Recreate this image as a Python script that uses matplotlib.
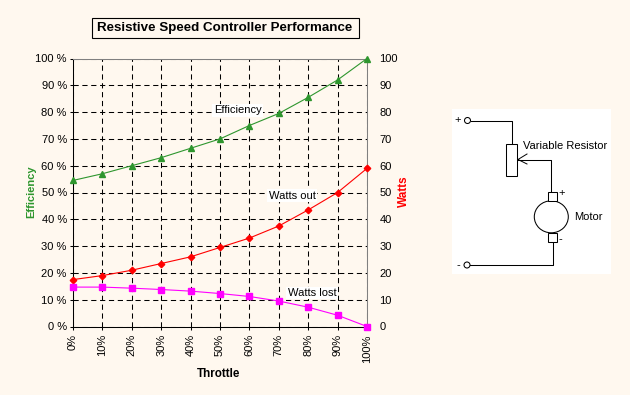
import matplotlib
matplotlib.use('Agg')
import matplotlib.pyplot as plt
from matplotlib.patches import Rectangle, Circle, Ellipse

plt.rcParams['font.family'] = ['Liberation Sans', 'DejaVu Sans']

throttle = [0, 10, 20, 30, 40, 50, 60, 70, 80, 90, 100]
efficiency = [54.5, 57, 60, 63, 66.5, 70, 75, 79.5, 85.5, 92, 100]
watts_out = [17.5, 19, 21, 23.5, 26, 29.5, 33, 37.5, 43.5, 50, 59]
watts_lost = [14.7, 14.7, 14.3, 13.8, 13.2, 12.3, 11.2, 9.5, 7.2, 4.2, 0]
x_labels = ['0%', '10%', '20%', '30%', '40%', '50%', '60%', '70%', '80%', '90%', '100%']
y_ticks = [0, 10, 20, 30, 40, 50, 60, 70, 80, 90, 100]

bg = '#FFF8EF'
W, H = 630, 395
fig = plt.figure(figsize=(W/100, H/100), dpi=100, facecolor=bg)

# plot area in pixels: 73..367 across, 58.5..326.5 down
ax = fig.add_axes([73/W, 1-326.5/H, 294/W, 268/H], facecolor=bg)
ax.set_xlim(0, 100)
ax.set_ylim(0, 100)
ax.set_xticks(throttle)
ax.set_xticklabels(x_labels, rotation=90, fontsize=8)
ax.set_yticks(y_ticks)
ax.set_yticklabels([str(v)+' %' for v in y_ticks], fontsize=8)
ax.tick_params(length=2.5, width=0.75, pad=2, color='black')
ax.tick_params(axis='x', pad=3)
ax.grid(True, color='black', linestyle=(0, (5, 3.5)), linewidth=0.75)
ax.set_axisbelow(True)
for s in ['top', 'right']:
    ax.spines[s].set_color('#808080')
    ax.spines[s].set_linewidth(0.75)
for s in ['left', 'bottom']:
    ax.spines[s].set_color('black')
    ax.spines[s].set_linewidth(0.75)

ax.plot(throttle, efficiency, color='#2E962E', marker='^', ms=5, lw=0.8, clip_on=False, zorder=4)
ax.plot(throttle, watts_out, color='#FF0000', marker='D', ms=3.3, lw=0.8, clip_on=False, zorder=4)
ax.plot(throttle, watts_lost, color='#FF00FF', marker='s', ms=4.3, lw=0.8, clip_on=False, zorder=4)

ax2 = ax.twinx()
ax2.set_ylim(0, 100)
ax2.set_yticks(y_ticks)
ax2.set_yticklabels([str(v) for v in y_ticks], fontsize=8)
ax2.tick_params(length=0, pad=9)
for s in ax2.spines.values():
    s.set_visible(False)

lab = dict(fontsize=8, ha='center', va='center', zorder=5,
           bbox=dict(facecolor='white', edgecolor='none', pad=1))
ax.text(56, 80.6, 'Efficiency', **lab)
ax.text(74.5, 48.8, 'Watts out', **lab)
ax.text(81.3, 12.5, 'Watts lost', **lab)

# overlay in pixel coordinates for the free labels and the circuit drawing
ov = fig.add_axes([0, 0, 1, 1], facecolor='none')
ov.set_xlim(0, W)
ov.set_ylim(H, 0)
ov.axis('off')

ov.add_patch(Rectangle((91.5, 17.5), 267, 20, fc=bg, ec='black', lw=0.8, zorder=5))
ov.text(225, 27.5, 'Resistive Speed Controller Performance', fontsize=9.6, fontweight='bold',
        ha='center', va='center', zorder=6)
ov.text(31, 192, 'Efficiency', color='#2E962E', fontsize=8, fontweight='bold',
        rotation=90, ha='center', va='center')
ov.text(404, 191, 'Watts', color='#FF0000', fontsize=8.5, fontweight='bold',
        rotation=90, ha='center', va='center')
ov.text(219, 374, 'Throttle', fontsize=8.4, fontweight='bold', ha='center', va='center')

# circuit
ov.add_patch(Rectangle((452, 109), 159, 165, fc='white', ec='none', zorder=1))
wires = [([470.5, 511.5, 511.5], [120.5, 120.5, 143.5]),
         ([518, 551, 551], [159.5, 159.5, 191.5]),
         ([552.5, 552.5, 470], [242, 265, 265])]
for xs, ys in wires:
    ov.plot(xs, ys, color='black', lw=0.75, zorder=2)
ov.plot([527, 518, 527], [154, 159.5, 164], color='black', lw=0.7, zorder=2)
ov.add_patch(Rectangle((506, 143.5), 11, 32, fc='white', ec='black', lw=0.75, zorder=3))
ov.add_patch(Ellipse((551.3, 216.8), 34, 32, fc='white', ec='black', lw=0.75, zorder=3))
ov.add_patch(Rectangle((547.5, 191.5), 9, 9, fc='white', ec='black', lw=0.75, zorder=4))
ov.add_patch(Rectangle((547.5, 232.5), 9, 9, fc='white', ec='black', lw=0.75, zorder=4))
ov.add_patch(Circle((467.5, 120.5), 3, fc='white', ec='black', lw=0.75, zorder=4))
ov.add_patch(Circle((467, 265), 3, fc='white', ec='black', lw=0.75, zorder=4))

small = dict(fontsize=8, ha='center', va='center', zorder=5)
ov.text(565, 146, 'Variable Resistor', **small)
ov.text(588.5, 216.5, 'Motor', **small)
ov.text(457.5, 120, '+', **small)
ov.text(458, 265, '-', **small)
ov.text(561.5, 193, '+', **small)
ov.text(560, 239, '-', **small)

fig.savefig('out.png', dpi=100, facecolor=bg)
